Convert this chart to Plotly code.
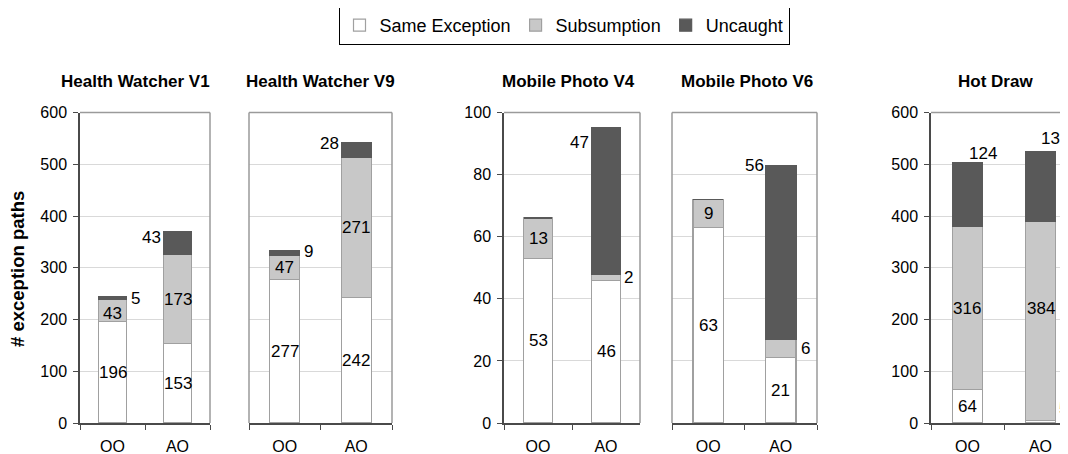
import plotly.graph_objects as go

# ---------------- data ----------------
panels = ["Health Watcher V1", "Health Watcher V9", "Mobile Photo V4", "Mobile Photo V6", "Hot Draw"]
categories = ["OO", "AO"]
series_names = ["Same Exception", "Subsumption", "Uncaught"]
same_exception = [[196, 153], [277, 242], [53, 46], [63, 21], [64, 5]]
subsumption = [[43, 173], [47, 271], [13, 2], [9, 6], [316, 384]]
uncaught = [[5, 43], [9, 28], [0, 47], [0, 56], [124, 136]]
y_max = [600, 600, 100, 100, 600]
y_step = [100, 100, 20, 20, 100]

# ---------------- style / layout ----------------
W, H = 1068, 454
OFF = 8  # page body margin offset of the figure inside the browser window


def fx(px):
    return (px - OFF) / W


def fy(py):
    return 1 - (py - OFF) / H


FONT = "Arial, Liberation Sans, Helvetica, sans-serif"
colors = ["#ffffff", "#c8c8c8", "#595959"]
edge = ["#a0a0a0", "#a0a0a0", "#595959"]
# plot-area boxes in screenshot pixels (left, right); shared top/bottom
px_boxes = [(80, 210), (249, 392), (504, 640), (672, 817), (931, W + OFF)]
top_px, bot_px = 112.5, 423
x_ranges = [[-0.5, 1.5]] * 4 + [[-0.5, -0.5 + (W + OFF - 931) / 73.0]]
show_y = [True, False, True, False, True]
title_cx = [135, 320, 568, 747, 995]
# label placement: per panel, per category, per series -> (mode, xshift, yshift)
place = [
    [[("c", 0, 0), ("c", 0, -3), ("r", 16, 0)], [("c", 0, 0), ("c", 0, 0), ("l", -15, -5)]],
    [[("c", 0, 0), ("c", 0, 0), ("r", 17, 2)], [("c", 0, 0), ("c", 0, 0), ("l", -15, 0)]],
    [[("c", 0, 0), ("c", 0, 0), None], [("c", 0, 0), ("r", 16, 0), ("l", -15, -14)]],
    [[("c", 0, 0), ("c", 0, 0), None], [("c", 0, 0), ("r", 18, 0), ("l", -15, 0)]],
    [[("c", 0, 0), ("c", 0, 0), ("tr", 16, -3)], [("r", 16, 13), ("c", 0, 13), ("tr", 14, 1)]],
]

fig = go.Figure()
annotations = []
shapes = []
ydom = [fy(bot_px), fy(top_px)]

for i, name in enumerate(panels):
    xa = "x" if i == 0 else f"x{i+1}"
    ya = "y" if i == 0 else f"y{i+1}"
    vals = [same_exception[i], subsumption[i], uncaught[i]]
    for s in range(3):
        fig.add_trace(go.Bar(
            x=categories, y=vals[s], name=series_names[s],
            marker=dict(color=colors[s], line=dict(color=edge[s], width=1.2)),
            width=0.42, xaxis=xa, yaxis=ya,
            showlegend=(i == 0), legendgroup=series_names[s], hoverinfo="y",
        ))
    xl, xr = px_boxes[i]
    axis_key_x = "xaxis" if i == 0 else f"xaxis{i+1}"
    axis_key_y = "yaxis" if i == 0 else f"yaxis{i+1}"
    fig.update_layout(**{
        axis_key_x: dict(
            domain=[fx(xl), min(fx(xr), 1.0)], anchor=ya, type="category",
            categoryorder="array", categoryarray=categories,
            range=x_ranges[i], showline=True, linecolor="#4a4a4a", linewidth=1.5,
            ticks="outside", tickson="boundaries", ticklen=5, tickcolor="#4a4a4a",
            tickwidth=1.2, showgrid=False, ticklabelstandoff=8,
            tickfont=dict(family=FONT, size=16, color="#000"), fixedrange=True,
        ),
        axis_key_y: dict(
            domain=ydom, anchor=xa, range=[0, y_max[i]], dtick=y_step[i], tick0=0,
            showgrid=True, gridcolor="#d9d9d9", gridwidth=1, zeroline=False,
            showline=show_y[i], linecolor="#4a4a4a", linewidth=1.5,
            ticks="outside" if show_y[i] else "", ticklen=5, tickcolor="#4a4a4a", tickwidth=1.2,
            ticklabelstandoff=3,
            showticklabels=show_y[i], tickfont=dict(family=FONT, size=16, color="#000"),
            fixedrange=True,
        ),
    })
    xdom = xa + " domain"
    ydomr = ya + " domain"
    # frame: top border
    shapes.append(dict(type="line", xref=xdom, yref=ydomr, x0=0, x1=1, y0=1, y1=1,
                       line=dict(color="#9a9a9a", width=1.5), layer="above"))
    if i != 4:
        shapes.append(dict(type="line", xref=xdom, yref=ydomr, x0=1, x1=1, y0=0, y1=1,
                           line=dict(color="#9a9a9a", width=1.5), layer="above"))
    if not show_y[i]:
        shapes.append(dict(type="line", xref=xdom, yref=ydomr, x0=0, x1=0, y0=0, y1=1,
                           line=dict(color="#9a9a9a", width=1.5), layer="above"))
    # panel title
    annotations.append(dict(text=f"<b>{name}</b>", x=fx(title_cx[i]), y=fy(81),
                            xref="paper", yref="paper", xanchor="center", yanchor="middle",
                            showarrow=False, font=dict(family=FONT, size=17, color="#000")))
    # data labels
    for c, cat in enumerate(categories):
        base = 0
        total = sum(v[c] for v in vals)
        for s in range(3):
            v = vals[s][c]
            p = place[i][c][s]
            if p is not None and v > 0:
                mode, dx, dy = p
                if mode == "c":
                    yy, xan, yan = base + v / 2, "center", "middle"
                elif mode == "r":
                    yy, xan, yan = base + v / 2, "left", "middle"
                elif mode == "l":
                    yy, xan, yan = total, "right", "middle"
                else:  # top-right
                    yy, xan, yan = total, "center", "bottom"
                annotations.append(dict(text=str(v), x=cat, y=yy, xref=xa, yref=ya,
                                        xanchor=xan, yanchor=yan, xshift=dx, yshift=dy,
                                        showarrow=False,
                                        font=dict(family=FONT, size=17, color="#000")))
            base += v

annotations.append(dict(text="<b># exception paths</b>", x=fx(17), y=fy(269),
                        xref="paper", yref="paper", textangle=-90, showarrow=False,
                        xanchor="center", yanchor="middle",
                        font=dict(family=FONT, size=18.5, color="#000")))

fig.update_layout(
    width=W, height=H, barmode="stack",
    margin=dict(l=0, r=0, t=0, b=0, autoexpand=False),
    paper_bgcolor="white", plot_bgcolor="white",
    font=dict(family=FONT, size=16, color="#000"),
    annotations=annotations, shapes=shapes,
    legend=dict(orientation="h", x=fx(564), xanchor="center", y=fy(6), yanchor="top",
                bordercolor="#000", borderwidth=1, bgcolor="white",
                font=dict(family=FONT, size=18, color="#000"),
                itemwidth=30, traceorder="normal", tracegroupgap=0),
)

fig.write_html("out.html")
